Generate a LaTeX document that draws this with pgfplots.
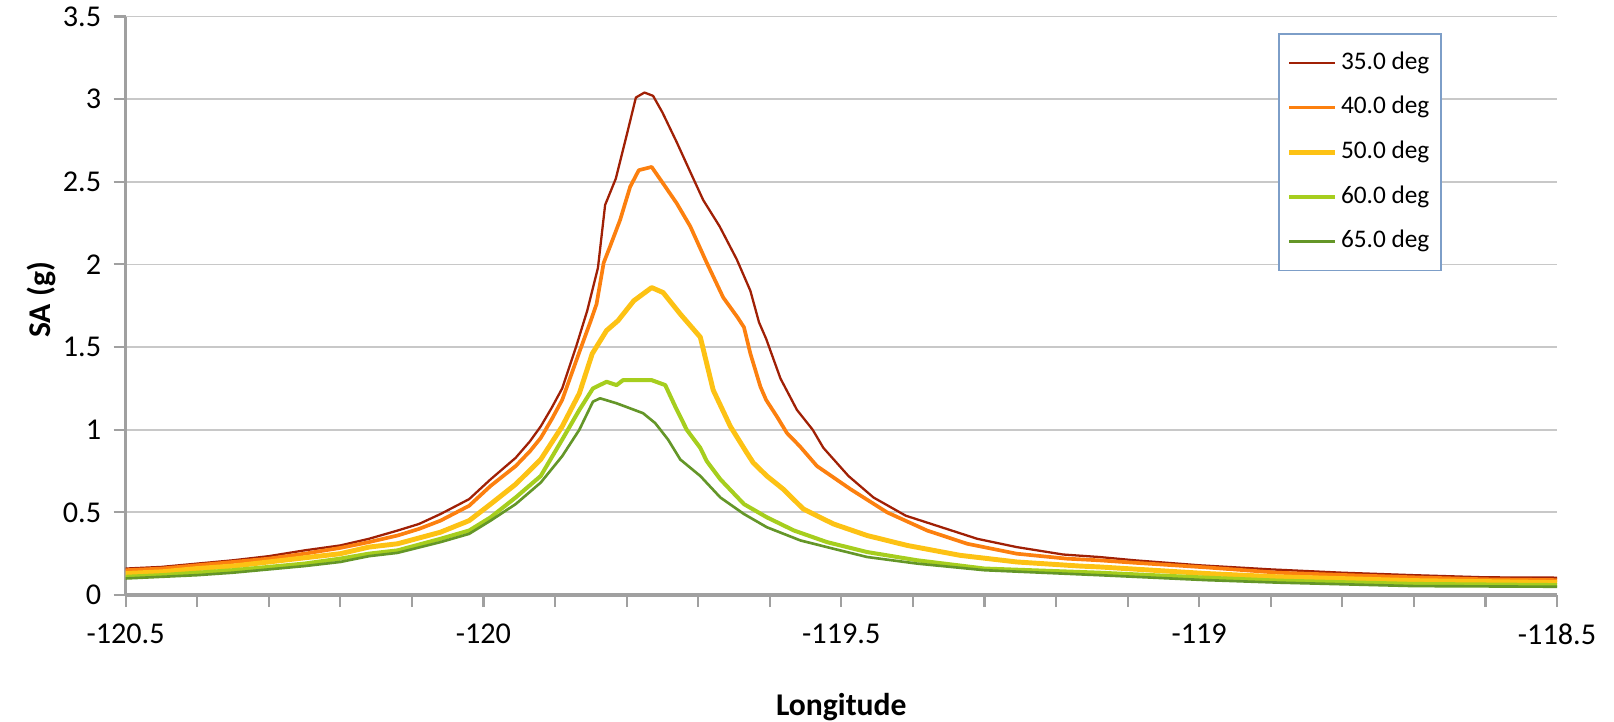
\documentclass[border=0pt]{standalone}
\usepackage{fontspec}
\setmainfont{Carlito}
\usepackage{pgfplots}
\pgfplotsset{compat=1.18}

\definecolor{c35}{RGB}{160,32,5}
\definecolor{c40}{RGB}{252,128,15}
\definecolor{c50}{RGB}{253,194,20}
\definecolor{c60}{RGB}{166,206,30}
\definecolor{c65}{RGB}{100,150,40}
\definecolor{gridgray}{RGB}{200,200,200}
\definecolor{axgray}{RGB}{160,160,160}
\definecolor{legblue}{RGB}{125,158,200}

\begin{document}
\begin{tikzpicture}
\begin{axis}[
    at={(0,0)}, anchor=south west,
    scale only axis,
    width=14.314cm, height=5.785cm,
    xmin=-120.5, xmax=-118.5,
    ymin=0, ymax=3.5,
    xtick={-120.5,-120,-119.5,-119,-118.5},
    minor x tick num=4,
    ytick={0,0.5,1,1.5,2,2.5,3,3.5},
    axis lines*=left,
    x axis line style={draw=axgray, line width=1.1pt},
    y axis line style={draw=axgray, line width=0.8pt},
    tick align=outside,
    major tick length=0.12cm,
    minor tick length=0.12cm,
    tick style={draw=axgray, line width=0.6pt},
    ymajorgrids=true,
    major grid style={draw=gridgray, line width=0.5pt},
    no markers,
    /pgf/number format/assume math mode=true,
    tick label style={font=\fontsize{8.6}{10}\selectfont},
    xticklabel style={yshift=-0.04cm},
    xlabel={Longitude},
    xlabel style={at={(axis description cs:0.5,-0.193)}, anchor=center, font=\fontsize{9}{11}\selectfont\bfseries},
    ylabel={SA (g)},
    ylabel style={at={(axis description cs:-0.0591,0.51)}, anchor=center, font=\fontsize{9}{11}\selectfont\bfseries},
    legend cell align=left,
    legend image code/.code={\draw[#1] (0cm,0cm) -- (0.46cm,0cm);},
    legend style={at={(0.805,0.9715)}, anchor=north west, draw=legblue, line width=0.55pt,
        font=\fontsize{7.2}{8}\selectfont, row sep=2.2pt, inner xsep=2.2pt, inner ysep=3pt,
        nodes={inner xsep=1pt}},
]
\addplot[c35, line width=0.65pt, line join=round] coordinates {
(-120.5,0.16) (-120.45,0.17) (-120.40,0.19) (-120.35,0.21) (-120.30,0.235)
(-120.25,0.27) (-120.20,0.30) (-120.16,0.34) (-120.12,0.39) (-120.09,0.43)
(-120.06,0.49) (-120.02,0.58) (-119.99,0.70) (-119.955,0.83) (-119.935,0.93)
(-119.92,1.02) (-119.905,1.13) (-119.89,1.25) (-119.87,1.51) (-119.855,1.72)
(-119.84,1.98) (-119.83,2.36) (-119.815,2.52) (-119.80,2.78) (-119.787,3.01)
(-119.775,3.04) (-119.763,3.02) (-119.75,2.92) (-119.73,2.74) (-119.71,2.55)
(-119.693,2.39) (-119.67,2.23) (-119.646,2.03) (-119.627,1.84) (-119.615,1.65)
(-119.605,1.55) (-119.585,1.31) (-119.562,1.12) (-119.54,1.00) (-119.525,0.89)
(-119.49,0.72) (-119.455,0.59) (-119.41,0.48) (-119.36,0.41) (-119.31,0.34)
(-119.255,0.29) (-119.19,0.245) (-119.14,0.23) (-119.09,0.21) (-119.0,0.18)
(-118.9,0.155) (-118.8,0.135) (-118.7,0.12) (-118.6,0.107) (-118.5,0.105)
};
\addlegendentry{35.0 deg}
\addplot[c40, line width=1.05pt, line join=round] coordinates {
(-120.5,0.15) (-120.45,0.16) (-120.40,0.18) (-120.35,0.20) (-120.30,0.22)
(-120.25,0.25) (-120.20,0.285) (-120.16,0.32) (-120.12,0.36) (-120.09,0.40)
(-120.06,0.45) (-120.02,0.54) (-119.99,0.66) (-119.955,0.78) (-119.935,0.87)
(-119.92,0.95) (-119.905,1.06) (-119.89,1.18) (-119.866,1.47) (-119.85,1.66)
(-119.842,1.76) (-119.832,2.01) (-119.823,2.11) (-119.809,2.27) (-119.795,2.47)
(-119.783,2.57) (-119.765,2.59) (-119.749,2.49) (-119.73,2.37) (-119.711,2.23)
(-119.688,2.01) (-119.665,1.80) (-119.645,1.68) (-119.636,1.62) (-119.627,1.46)
(-119.613,1.26) (-119.605,1.18) (-119.59,1.08) (-119.576,0.98) (-119.558,0.90)
(-119.534,0.78) (-119.487,0.64) (-119.436,0.50) (-119.38,0.39) (-119.324,0.31)
(-119.255,0.25) (-119.185,0.22) (-119.14,0.21) (-119.09,0.195) (-118.99,0.167)
(-118.89,0.135) (-118.79,0.12) (-118.7,0.107) (-118.6,0.095) (-118.5,0.09)
};
\addlegendentry{40.0 deg}
\addplot[c50, line width=1.4pt, line join=round] coordinates {
(-120.5,0.13) (-120.45,0.14) (-120.40,0.16) (-120.35,0.175) (-120.30,0.20)
(-120.25,0.225) (-120.20,0.25) (-120.16,0.29) (-120.12,0.31) (-120.06,0.38)
(-120.02,0.45) (-119.99,0.55) (-119.955,0.67) (-119.92,0.82) (-119.89,1.02)
(-119.866,1.22) (-119.848,1.46) (-119.828,1.60) (-119.812,1.66) (-119.79,1.78)
(-119.765,1.86) (-119.749,1.83) (-119.725,1.70) (-119.697,1.56) (-119.688,1.40)
(-119.679,1.24) (-119.655,1.02) (-119.632,0.86) (-119.623,0.80) (-119.604,0.72)
(-119.581,0.64) (-119.553,0.52) (-119.511,0.43) (-119.464,0.36) (-119.408,0.30)
(-119.334,0.24) (-119.255,0.20) (-119.166,0.175) (-119.14,0.17) (-118.99,0.13)
(-118.89,0.11) (-118.7,0.087) (-118.5,0.075)
};
\addlegendentry{50.0 deg}
\addplot[c60, line width=1.15pt, line join=round] coordinates {
(-120.5,0.11) (-120.45,0.12) (-120.40,0.135) (-120.35,0.15) (-120.30,0.17)
(-120.25,0.19) (-120.20,0.22) (-120.16,0.25) (-120.12,0.27) (-120.06,0.34)
(-120.02,0.39) (-119.99,0.47) (-119.955,0.59) (-119.92,0.72) (-119.89,0.94)
(-119.866,1.12) (-119.847,1.25) (-119.828,1.29) (-119.814,1.27) (-119.805,1.30)
(-119.765,1.30) (-119.746,1.27) (-119.732,1.14) (-119.716,1.00) (-119.697,0.89)
(-119.688,0.81) (-119.669,0.70) (-119.636,0.55) (-119.604,0.47) (-119.566,0.39)
(-119.52,0.32) (-119.464,0.26) (-119.394,0.21) (-119.30,0.16) (-119.14,0.135)
(-118.99,0.105) (-118.89,0.087) (-118.7,0.067) (-118.5,0.06)
};
\addlegendentry{60.0 deg}
\addplot[c65, line width=0.75pt, line join=round] coordinates {
(-120.5,0.10) (-120.45,0.11) (-120.40,0.12) (-120.35,0.135) (-120.30,0.155)
(-120.25,0.175) (-120.20,0.20) (-120.16,0.235) (-120.12,0.255) (-120.06,0.32)
(-120.02,0.37) (-119.99,0.45) (-119.955,0.55) (-119.92,0.68) (-119.89,0.84)
(-119.866,1.00) (-119.847,1.17) (-119.837,1.19) (-119.814,1.16) (-119.777,1.10)
(-119.76,1.04) (-119.742,0.94) (-119.725,0.82) (-119.697,0.72) (-119.669,0.59)
(-119.636,0.49) (-119.604,0.41) (-119.557,0.33) (-119.511,0.28) (-119.464,0.23)
(-119.394,0.19) (-119.30,0.15) (-119.14,0.12) (-118.99,0.09) (-118.89,0.075)
(-118.7,0.054) (-118.5,0.05)
};
\addlegendentry{65.0 deg}
\end{axis}
\pgfresetboundingbox
\path (-1.256cm,-1.26cm) rectangle (14.884cm,5.95cm);
\end{tikzpicture}
\end{document}
